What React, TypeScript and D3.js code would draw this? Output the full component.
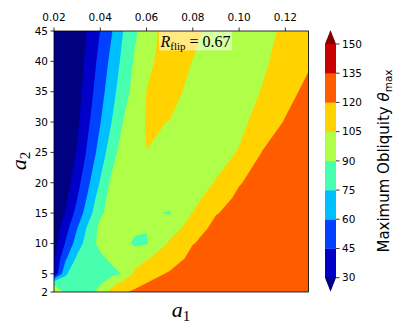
import React from 'react';
import * as d3 from 'd3';

// grid of the scan
const a1Values = [0.02, 0.025, 0.03, 0.035, 0.04, 0.045, 0.05, 0.055, 0.06, 0.07, 0.08, 0.09, 0.10, 0.11, 0.12, 0.13];
const a2Values = [2, 3.5, 5, 7.5, 10, 12.5, 15, 17.5, 20, 25, 30, 35, 40, 45];

// maximum obliquity (deg), one row per a2 value, one column per a1 value
const thetaMax = [
  [108, 85, 80, 82, 98, 110, 118, 123, 125, 127, 128, 129, 130, 131, 132, 133],
  [85, 78, 80, 82, 88, 99, 109, 114, 120, 124, 126, 128, 129, 130, 131, 132],
  [31, 74, 80, 82, 84, 86, 91, 108, 113, 122, 125, 127, 128.5, 130, 131, 132],
  [29, 58, 78, 82, 87, 93, 96, 99, 104, 111, 125, 127, 128, 129.5, 130.5, 131.5],
  [23, 46.5, 67.3, 83, 94, 95, 93, 88, 89, 107, 119.5, 125, 127, 128.5, 130, 131],
  [20, 39.2, 59.6, 79, 94, 96, 95, 92, 90.5, 99, 111, 125, 127.5, 129, 130, 131],
  [12, 31.2, 50.3, 69.2, 87.8, 95, 96, 95, 92, 89, 105.5, 119.2, 125, 127.5, 129, 130.5],
  [8, 26.3, 44.6, 63.4, 83, 96, 97, 97, 96, 95, 100, 113, 123, 127, 129, 130.5],
  [5, 22.3, 39.6, 58.2, 76.4, 93.3, 97, 98, 98, 97, 97, 106, 119, 126, 129, 131],
  [0, 14.3, 31.7, 49.2, 66.6, 83.9, 97, 101, 104.9, 102, 100, 99, 106, 120.5, 128, 132],
  [0, 10.8, 27.1, 43.4, 59.4, 75.3, 90.5, 98.3, 106.1, 104.8, 101, 99, 101.1, 111.1, 121.1, 131],
  [0, 9, 24, 39, 54, 69.8, 84.3, 94.9, 105.2, 108, 102.6, 99, 99, 105.7, 114.9, 124],
  [0, 7.4, 21.5, 35.7, 49.8, 64.6, 79.7, 92, 103, 109, 104.8, 100, 99, 102.7, 110.2, 118],
  [0, 6.5, 19.4, 32.3, 45.3, 59.2, 75.2, 87.5, 98, 112, 108, 101, 98, 100, 108, 116],
];

const levels = [30, 45, 60, 75, 90, 105, 120, 135, 150];
const xTicks = [0.02, 0.04, 0.06, 0.08, 0.10, 0.12];
const yTicks = [2, 5, 10, 15, 20, 25, 30, 35, 40, 45];
const rFlip = 0.67;

// matplotlib jet segment data
const jetR = [[0, 0], [0.35, 0], [0.66, 1], [0.89, 1], [1, 0.5]];
const jetG = [[0, 0], [0.125, 0], [0.375, 1], [0.64, 1], [0.91, 0], [1, 0]];
const jetB = [[0, 0.5], [0.11, 1], [0.34, 1], [0.65, 0], [1, 0]];
const seg = (pts: number[][], t: number) =>
  d3.scaleLinear().domain(pts.map(p => p[0])).range(pts.map(p => p[1])).clamp(true)(t);
const jet = (t: number) => d3.rgb(255 * seg(jetR, t), 255 * seg(jetG, t), 255 * seg(jetB, t)).formatHex();

const vmin = levels[0], vmax = levels[levels.length - 1];
const bandColors = levels.slice(0, -1).map((l, i) => jet(((l + levels[i + 1]) / 2 - vmin) / (vmax - vmin)));
const underColor = jet(0);
const overColor = jet(1);

const margin = { left: 54, top: 31, right: 308.5, bottom: 292 };
const x = d3.scaleLinear().domain([0.02, 0.13]).range([margin.left, margin.right]);
const y = d3.scaleLinear().domain([2, 45]).range([margin.bottom, margin.top]);
const cb = { x: 325, w: 11, top: 44, bottom: 277.7, tip: 14 };
const cy = d3.scaleLinear().domain([vmin, vmax]).range([cb.bottom, cb.top]);

// contour coords -> data coords (grid values sit at i + 0.5)
const gridToData = (vals: number[], c: number) => {
  const g = Math.max(0, Math.min(vals.length - 1, c - 0.5));
  const k = Math.min(vals.length - 2, Math.floor(g));
  return vals[k] + (g - k) * (vals[k + 1] - vals[k]);
};

const App = () => {
  const nx = a1Values.length, ny = a2Values.length;
  const contours = d3.contours().size([nx, ny]).thresholds(levels)(thetaMax.flat());
  const path = d3.geoPath(d3.geoTransform({
    point(px: number, py: number) {
      this.stream.point(x(gridToData(a1Values, px)), y(gridToData(a2Values, py)));
    }
  }));
  const fmt = d3.format('.2f');
  const tickFont = { fontFamily: 'DejaVu Sans', fontSize: 10.5, fill: '#000' };

  return (
    <svg width={395} height={327} style={{ position: 'absolute', left: 0, top: 0, background: '#fff' }}>
      <defs>
        <clipPath id="plot">
          <rect x={margin.left} y={margin.top} width={margin.right - margin.left} height={margin.bottom - margin.top} />
        </clipPath>
      </defs>
      <g clipPath="url(#plot)">
        <rect x={margin.left} y={margin.top} width={margin.right - margin.left} height={margin.bottom - margin.top} fill={underColor} />
        {contours.map((c, i) => (
          <path key={`band-${i}`} d={path(c as any) || ''} fill={i < bandColors.length ? bandColors[i] : overColor} />
        ))}
      </g>

      {/* R_flip label */}
      <rect x={159} y={31.5} width={73} height={19} fill="#fff" fillOpacity={0.5} />
      <text x={160.5} y={47} style={{ fontFamily: 'Liberation Serif', fontSize: 16 }}>
        <tspan fontStyle="italic">R</tspan>
        <tspan fontSize={11} dy={3}>flip</tspan>
        <tspan dy={-3}>{` = ${rFlip}`}</tspan>
      </text>

      <rect x={margin.left} y={margin.top} width={margin.right - margin.left} height={margin.bottom - margin.top}
        fill="none" stroke="#000" strokeWidth={0.8} />

      {/* top axis */}
      {xTicks.map(t => (
        <g key={`xt-${t}`} transform={`translate(${x(t)},${margin.top})`}>
          <line y2={-3.5} stroke="#000" strokeWidth={0.8} />
          <text y={-10} textAnchor="middle" style={tickFont}>{fmt(t)}</text>
        </g>
      ))}
      {/* left axis */}
      {yTicks.map(t => (
        <g key={`yt-${t}`} transform={`translate(${margin.left},${y(t)})`}>
          <line x2={-3.5} stroke="#000" strokeWidth={0.8} />
          <text x={-6} dy="0.36em" textAnchor="end" style={tickFont}>{t}</text>
        </g>
      ))}

      <text x={181} y={317} textAnchor="middle" style={{ fontFamily: 'Liberation Serif', fontSize: 22 }}>
        <tspan fontStyle="italic">a</tspan>
        <tspan fontSize={15} dy={4}>1</tspan>
      </text>
      <text transform={`translate(26,161) rotate(-90)`} textAnchor="middle" style={{ fontFamily: 'Liberation Serif', fontSize: 22 }}>
        <tspan fontStyle="italic">a</tspan>
        <tspan fontSize={15} dy={4}>2</tspan>
      </text>

      {/* colorbar */}
      {bandColors.map((c, i) => (
        <rect key={`cb-${i}`} x={cb.x} y={cy(levels[i + 1])} width={cb.w} height={cy(levels[i]) - cy(levels[i + 1]) + 0.3} fill={c} />
      ))}
      <path d={`M${cb.x},${cb.top}L${cb.x + cb.w / 2},${cb.top - cb.tip}L${cb.x + cb.w},${cb.top}Z`} fill={overColor} />
      <path d={`M${cb.x},${cb.bottom}L${cb.x + cb.w / 2},${cb.bottom + cb.tip}L${cb.x + cb.w},${cb.bottom}Z`} fill={underColor} />
      {levels.map(l => (
        <g key={`ct-${l}`} transform={`translate(${cb.x + cb.w},${cy(l)})`}>
          <line x2={3.5} stroke="#000" strokeWidth={0.8} />
          <text x={6} dy="0.36em" style={tickFont}>{l}</text>
        </g>
      ))}
      <text transform={`translate(389,161) rotate(-90)`} textAnchor="middle" style={{ fontFamily: 'DejaVu Sans', fontSize: 15 }}>
        Maximum Obliquity <tspan fontStyle="italic">θ</tspan>
        <tspan fontSize={10.5} dy={3}>max</tspan>
      </text>
    </svg>
  );
};

export default App;
